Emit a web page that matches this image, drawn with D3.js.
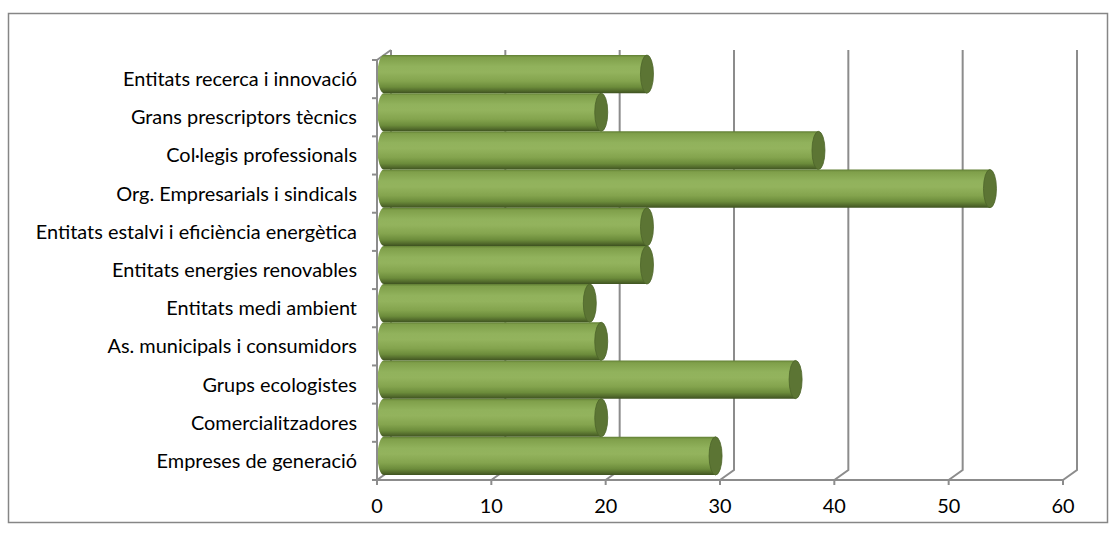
<!DOCTYPE html>
<html>
<head>
<meta charset="utf-8">
<script src="https://cdn.jsdelivr.net/npm/d3@7"></script>
<style>
  html, body { margin: 0; padding: 0; background: #fff; }
  svg { display: block; }
  text { font-family: Lato, "Open Sans", sans-serif; fill: #000; }
</style>
</head>
<body>
<svg id="chart" width="1117" height="536"></svg>
<script>
// Participating organisations, listed top to bottom
const categories = [
  "Entitats recerca i innovació",
  "Grans prescriptors tècnics",
  "Col·legis professionals",
  "Org. Empresarials i sindicals",
  "Entitats estalvi i eficiència energètica",
  "Entitats energies renovables",
  "Entitats medi ambient",
  "As. municipals i consumidors",
  "Grups ecologistes",
  "Comercialitzadores",
  "Empreses de generació"
];
const values = [23, 19, 38, 53, 23, 23, 18, 19, 36, 19, 29];
const valueTicks = [0, 10, 20, 30, 40, 50, 60];

const svg = d3.select("#chart");
const labelSize = 19.9;

// outer chart frame
svg.append("rect")
  .attr("x", 8.5).attr("y", 13.5)
  .attr("width", 1099).attr("height", 509)
  .attr("fill", "#fff")
  .attr("stroke", "#868686").attr("stroke-width", 1.5);

// plot box (front plane) and oblique depth of the 3-D walls
const plot = { left: 377, right: 1063, top: 60, bottom: 480 };
const depth = { dx: 14, dy: -10 };

const x = d3.scaleLinear().domain([0, 60]).range([plot.left, plot.right]);
const y = d3.scaleBand().domain(categories).range([plot.top, plot.bottom]).padding(0);

const gridColor = "#8c8c8c";

// back-wall gridlines with their floor diagonals
const grid = svg.append("g").attr("fill", "none").attr("stroke", gridColor).attr("stroke-width", 2);
valueTicks.forEach(t => {
  const fx = x(t), bx = x(t) + depth.dx;
  grid.append("path")
    .attr("d", `M${bx},${plot.top + depth.dy} L${bx},${plot.bottom + depth.dy} L${fx},${plot.bottom}`);
});
// top edge of the side wall
grid.append("path")
  .attr("d", `M${plot.left},${plot.top} L${plot.left + depth.dx},${plot.top + depth.dy}`);

// cylinder shading
const defs = svg.append("defs");
const grad = defs.append("linearGradient")
  .attr("id", "cyl").attr("x1", 0).attr("y1", 0).attr("x2", 0).attr("y2", 1);
[
  [0.00, "#617f34"],
  [0.06, "#7f9f4a"],
  [0.30, "#91b25c"],
  [0.45, "#93b35d"],
  [0.68, "#84a44e"],
  [0.84, "#6c8c3b"],
  [0.94, "#51692b"],
  [1.00, "#3e5220"]
].forEach(([o, c]) => grad.append("stop").attr("offset", o).attr("stop-color", c));

const capColor = "#5c7534";
const bars = svg.append("g");
categories.forEach((cat, i) => {
  const v = values[i];
  const top = y(cat) + depth.dy / 2;
  const h = y.bandwidth();
  const ry = h / 2;
  const rx = 6.5;
  const x0 = x(0) + depth.dx / 2;
  const x1 = x(v) + depth.dx / 2;
  const cy = top + ry;
  // body with rounded left end
  bars.append("path")
    .attr("d", `M${x1},${top} L${x0},${top} A${rx},${ry} 0 0 0 ${x0},${top + h} L${x1},${top + h} Z`)
    .attr("fill", "url(#cyl)");
  // end cap
  bars.append("ellipse")
    .attr("cx", x1).attr("cy", cy)
    .attr("rx", rx).attr("ry", ry)
    .attr("fill", capColor)
    .attr("stroke", "#4d6429").attr("stroke-width", 0.8);
});

// category axis
const catAxis = svg.append("g").attr("fill", "none").attr("stroke", gridColor).attr("stroke-width", 2);
catAxis.append("line")
  .attr("x1", plot.left).attr("x2", plot.left)
  .attr("y1", plot.top).attr("y2", plot.bottom);
const boundaries = categories.map(c => y(c)).concat([plot.bottom]);
boundaries.forEach(b => {
  catAxis.append("line")
    .attr("x1", plot.left - 5).attr("x2", plot.left)
    .attr("y1", b).attr("y2", b);
});
svg.append("g").selectAll("text")
  .data(categories).join("text")
  .attr("x", 357)
  .attr("y", d => y(d) + y.bandwidth() / 2)
  .attr("dy", "0.35em")
  .attr("text-anchor", "end")
  .attr("font-size", labelSize)
  .text(d => d);

// value axis
const valAxis = svg.append("g").attr("fill", "none").attr("stroke", gridColor).attr("stroke-width", 2);
valAxis.append("line")
  .attr("x1", plot.left).attr("x2", plot.right)
  .attr("y1", plot.bottom).attr("y2", plot.bottom);
valueTicks.forEach(t => {
  valAxis.append("line")
    .attr("x1", x(t)).attr("x2", x(t))
    .attr("y1", plot.bottom).attr("y2", plot.bottom + 5);
});
svg.append("g").selectAll("text")
  .data(valueTicks).join("text")
  .attr("x", d => x(d))
  .attr("y", 506)
  .attr("dy", "0.35em")
  .attr("text-anchor", "middle")
  .attr("font-size", labelSize)
  .text(d => d);
</script>
</body>
</html>
